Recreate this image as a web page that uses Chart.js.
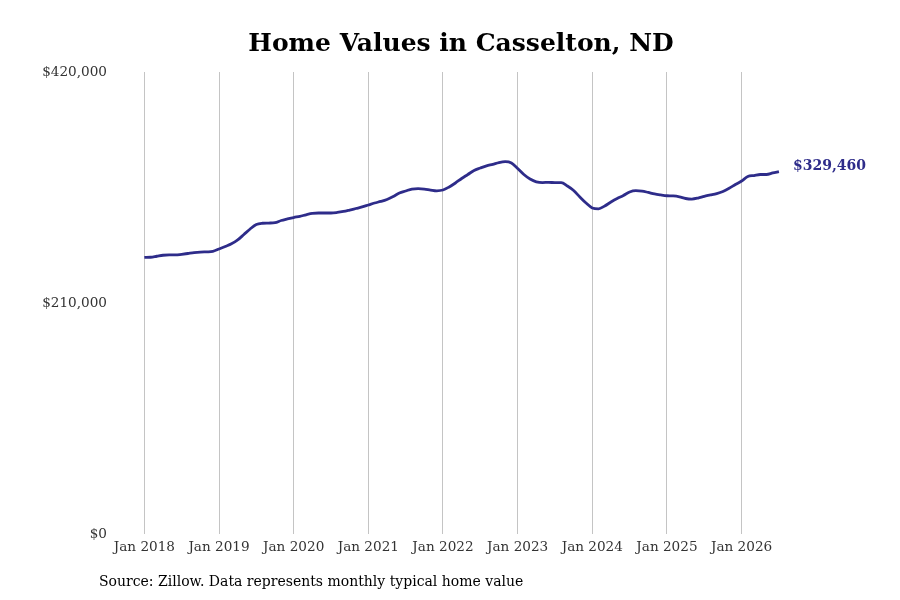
<!DOCTYPE html>
<html>
<head>
<meta charset="utf-8">
<script src="https://cdn.jsdelivr.net/npm/chart.js@4.4.1/dist/chart.umd.min.js"></script>
<style>
  html, body { margin: 0; padding: 0; background: #fff; }
  #wrap { width: 900px; height: 600px; position: relative; }
</style>
</head>
<body>
<div id="wrap"><canvas id="homeChart" width="900" height="600"></canvas></div>
<script>
// monthly typical home value, Jan 2018 .. Jul 2026
const startYear = 2018;
const values2018 = [251400, 251600, 252500, 253400, 253700, 253700, 254300, 255000, 255700, 256200, 256500, 256900];
const values2019 = [259100, 261400, 263800, 267300, 272300, 277300, 281400, 282500, 282700, 283000, 285000, 286400];
const values2020 = [287700, 288800, 290200, 291400, 291800, 291800, 291800, 292300, 293200, 294500, 295900, 297300];
const values2021 = [299100, 300900, 302300, 304100, 306800, 310000, 311800, 313600, 313900, 313600, 312700, 312000];
const values2022 = [312700, 315500, 319100, 323200, 326800, 330500, 332700, 334700, 336100, 337700, 338500, 337300];
const values2023 = [332300, 326800, 322700, 320200, 319500, 319700, 319400, 319400, 316400, 312300, 306400, 300900];
const values2024 = [296400, 295600, 298200, 301800, 305000, 307700, 310900, 312100, 311800, 310500, 309100, 308200];
const values2025 = [307500, 307300, 306500, 305000, 304500, 305400, 307000, 308200, 309500, 311400, 314300, 317700];
const values2026 = [320900, 325000, 325900, 326800, 326800, 328200, 329460];

const yTicks = [0, 210000, 420000];
const yearTicks = [0, 12, 24, 36, 48, 60, 72, 84, 96]; // month offsets of each January

const titleText = "Home Values in Casselton, ND";
const sourceText = "Source: Zillow. Data represents monthly typical home value";
const lineColor = "#2e2c8a";

const allValues = [].concat(values2018, values2019, values2020, values2021, values2022,
  values2023, values2024, values2025, values2026);
const points = allValues.map((v, i) => ({ x: i, y: v }));

const money = v => "$" + Math.round(v).toLocaleString("en-US");
const serif = "'DejaVu Serif', serif";

// title, source line and end-of-line value label
const extraText = {
  id: "extraText",
  afterDraw(chart) {
    const ctx = chart.ctx;
    ctx.save();
    ctx.fillStyle = "#000";
    ctx.font = "bold 25px " + serif;
    ctx.textAlign = "center";
    ctx.textBaseline = "middle";
    ctx.fillText(titleText, 461, 44);

    ctx.font = "14px " + serif;
    ctx.textAlign = "left";
    ctx.fillText(sourceText, 99, 582);

    const meta = chart.getDatasetMeta(0);
    const last = meta.data[meta.data.length - 1];
    ctx.fillStyle = lineColor;
    ctx.font = "bold 14px " + serif;
    ctx.fillText(money(allValues[allValues.length - 1]), last.x + 14, last.y - 5);
    ctx.restore();
  }
};

new Chart(document.getElementById("homeChart"), {
  type: "line",
  data: {
    datasets: [{
      data: points,
      borderColor: lineColor,
      borderWidth: 2.8,
      pointRadius: 0,
      fill: false,
      tension: 0.4,
      cubicInterpolationMode: "monotone"
    }]
  },
  options: {
    responsive: false,
    animation: false,
    layout: { padding: { left: 0, right: 110, top: 72, bottom: 36 } },
    scales: {
      x: {
        type: "linear",
        min: -4.72,
        max: 103.78,
        afterBuildTicks: scale => { scale.ticks = yearTicks.map(v => ({ value: v })); },
        afterFit: scale => { scale.height = 30; },
        grid: { color: "#c4c4c4", lineWidth: 1, drawTicks: false },
        border: { display: false },
        ticks: {
          padding: 5,
          color: "#333",
          font: { family: serif, size: 13.6 },
          callback: v => "Jan " + (startYear + v / 12)
        }
      },
      y: {
        min: 0,
        max: 420000,
        afterBuildTicks: scale => { scale.ticks = yTicks.map(v => ({ value: v })); },
        afterFit: scale => { scale.width = 115; },
        grid: { display: false },
        border: { display: false },
        ticks: {
          padding: 0,
          color: "#333",
          font: { family: serif, size: 13.6 },
          callback: v => money(v)
        }
      }
    },
    plugins: {
      legend: { display: false },
      title: { display: false },
      tooltip: { enabled: false }
    }
  },
  plugins: [extraText]
});
</script>
</body>
</html>
